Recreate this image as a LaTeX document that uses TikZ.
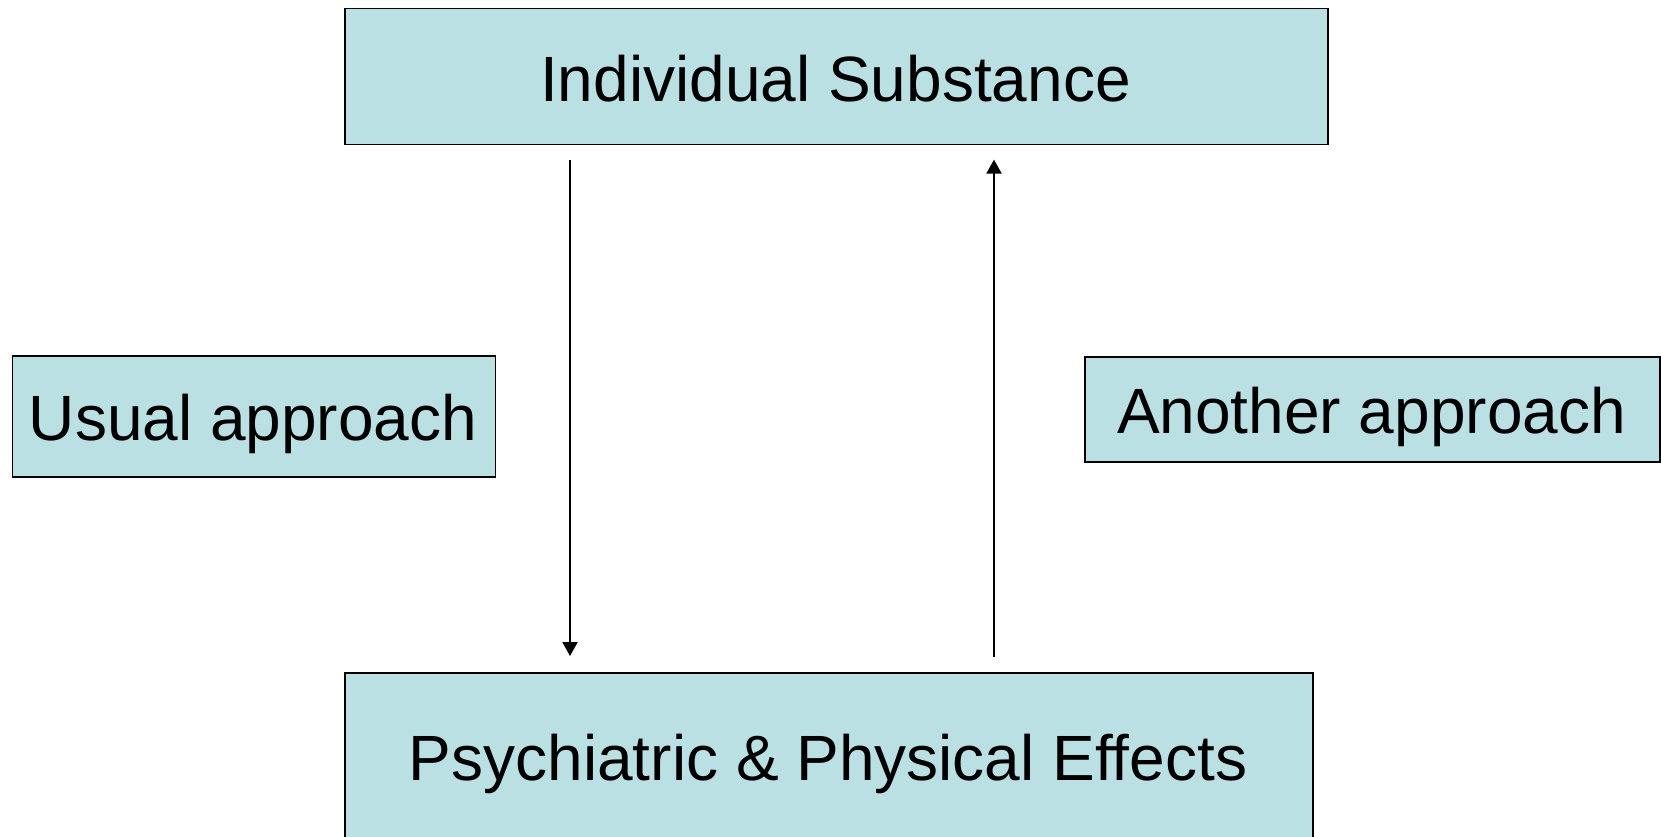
\documentclass[tikz,border=0pt]{standalone}
\usepackage{fontspec}
\setmainfont{Liberation Sans}
\usetikzlibrary{arrows.meta,calc}
\definecolor{boxfill}{HTML}{BBE0E3}
\begin{document}
\begin{tikzpicture}[x=1pt,y=-1pt,
  box/.style={draw=black, line width=1.6pt, fill=boxfill, inner sep=0pt, anchor=north west},
  lbl/.style={font=\fontsize{64}{77}\selectfont, inner sep=0pt, anchor=base},
  arr/.style={draw=black, line width=2pt, -{Triangle[length=14pt,width=15pt]}}]
\useasboundingbox (0,0) rectangle (1661,836);

% boxes
\node[box, minimum width=983pt, minimum height=136pt] (top) at (344,7.5) {};
\node[box, minimum width=968pt, minimum height=260pt] (bot) at (344,672) {};
\node[box, minimum width=483pt, minimum height=121pt] (usual) at (11.5,355) {};
\node[box, minimum width=575pt, minimum height=105pt] (another) at (1084,356) {};

% labels
\node[lbl] (toplbl) at (835.5,101.7) {Individual Substance};
\node[lbl] (botlbl) at (828,780.7) {Psychiatric \& Physical Effects};
\node[lbl] (usuallbl) at (253,440.7) {Usual approach};
\node[lbl] (anotherlbl) at (1371.5,433) {Another approach};

% arrow columns
\coordinate (dn) at (570,0);
\coordinate (up) at (994,0);

\draw[arr] ($(top.south -| dn)+(0,14.5)$) -- ($(bot.north -| dn)+(0,-16)$);
\draw[arr] ($(bot.north -| up)+(0,-15)$) -- ($(top.south -| up)+(0,14.5)$);
\end{tikzpicture}
\end{document}
